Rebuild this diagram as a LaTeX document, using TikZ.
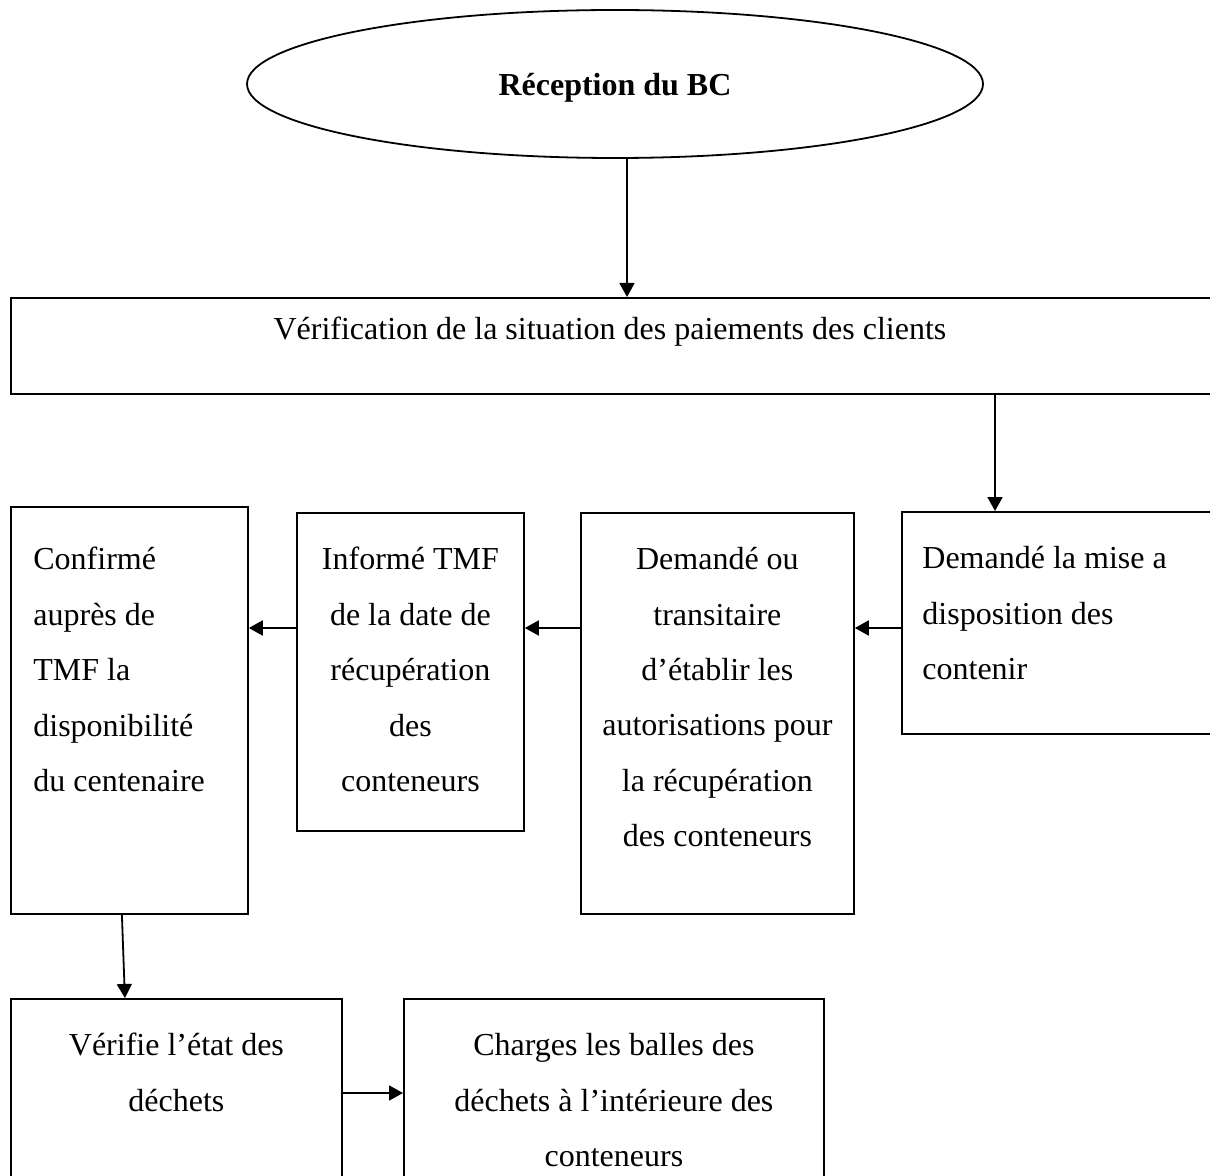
\documentclass[tikz,border=0pt]{standalone}
\usepackage{fontspec}
\setmainfont{Liberation Serif}
\usetikzlibrary{positioning, arrows.meta, shapes.geometric}

\begin{document}
\begin{tikzpicture}[
  x=0.5pt, y=-0.5pt,
  box/.style={draw, line width=0.9pt, rectangle, inner sep=0pt, anchor=north west},
  oval/.style={draw, line width=0.9pt, ellipse, inner sep=0pt, text depth=0pt,
               minimum width=368pt, minimum height=74pt,
               font=\fontsize{16}{18}\selectfont\bfseries},
  txt/.style={inner sep=0pt, align=center, font=\fontsize{16}{27.7}\selectfont},
  ltxt/.style={txt, align=left},
  arr/.style={-{Triangle[length=7pt, width=7.5pt]}, line width=0.9pt},
]

\useasboundingbox (0,0) rectangle (1210,1176);

% --- Start: order received ---
\node[oval] (bc) at (615,84) {Réception du BC};

% --- Payment check ---
\node[box, minimum width=605pt, minimum height=48pt] (pay) at (10,297) {};
\node[txt, below=10pt of pay.north, xshift=-3pt] (pay-t)
  {Vérification de la situation des paiements des clients};

% --- Row of steps (right to left) ---
\node[box, minimum width=160pt, minimum height=111pt] (mad) at (901,511) {};
\node[ltxt, below right=17.5pt and 10.5pt of mad.north west] (mad-t)
  {Demandé la mise a\\disposition des\\contenir};

\node[box, minimum width=136.5pt, minimum height=200.5pt] (aut) at (580,512) {};
\node[txt, below=17.5pt of aut.north] (aut-t)
  {Demandé ou\\transitaire\\d’établir les\\autorisations pour\\la récupération\\des conteneurs};

\node[box, minimum width=113.5pt, minimum height=159pt] (inf) at (296,512) {};
\node[txt, below=17.5pt of inf.north] (inf-t)
  {Informé TMF\\de la date de\\récupération\\des\\conteneurs};

\node[box, minimum width=118.5pt, minimum height=203.5pt] (conf) at (10,506) {};
\node[ltxt, below right=20.5pt and 11.5pt of conf.north west] (conf-t)
  {Confirmé\\auprès de\\TMF la\\disponibilité\\du centenaire};

% --- Bottom row ---
\node[box, minimum width=165.5pt, minimum height=110pt] (etat) at (10,998) {};
\node[txt, below=17.5pt of etat.north] (etat-t) {Vérifie l’état des\\déchets};

\node[box, minimum width=210pt, minimum height=110pt] (charg) at (403,998) {};
\node[txt, below=17.5pt of charg.north] (charg-t)
  {Charges les balles des\\déchets à l’intérieure des\\conteneurs};

% --- Connectors ---
\coordinate (drop) at (995,0);
\coordinate (row) at (0,628);
\coordinate (low) at (0,1093);

\draw[arr] ([xshift=6pt]bc.south) -- ([xshift=6pt]bc.south |- pay.north);
\draw[arr] (pay.south -| drop) -- (mad.north -| drop);
\draw[arr] (mad.west |- row) -- (aut.east |- row);
\draw[arr] (aut.west |- row) -- (inf.east |- row);
\draw[arr] (inf.west |- row) -- (conf.east |- row);
\draw[arr] ([xshift=-3.75pt]conf.south) -- ([xshift=-25.75pt]etat.north);
\draw[arr] (etat.east |- low) -- (charg.west |- low);

\end{tikzpicture}
\end{document}
